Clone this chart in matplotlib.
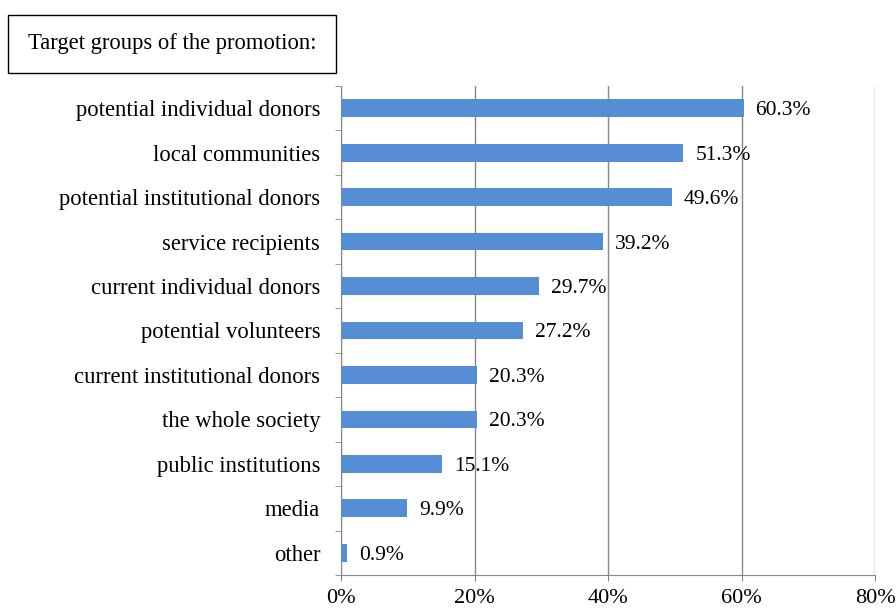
import matplotlib
matplotlib.use("Agg")
import matplotlib.pyplot as plt
from matplotlib.patches import Rectangle

plt.rcParams['font.family'] = ['Liberation Serif', 'DejaVu Serif']

categories = ["potential individual donors", "local communities", "potential institutional donors",
              "service recipients", "current individual donors", "potential volunteers",
              "current institutional donors", "the whole society", "public institutions",
              "media", "other"]
values = [60.3, 51.3, 49.6, 39.2, 29.7, 27.2, 20.3, 20.3, 15.1, 9.9, 0.9]
x_ticks = [0, 20, 40, 60, 80]
x_tick_labels = ["0%", "20%", "40%", "60%", "80%"]
title = "Target groups of the promotion:"

fig = plt.figure(figsize=(8.96, 6.08), dpi=100)
ax = fig.add_axes([341/896, 1-575/608, (875-341)/896, (575-86)/608])

n = len(categories)
ypos = list(range(n))
ax.barh(ypos, values, height=0.4, color='#558ed5', zorder=3)
ax.set_ylim(n - 0.5, -0.5)
ax.set_xlim(0, 80)

for y, v in zip(ypos, values):
    ax.text(v + 1.8, y, f"{v:.1f}%", va='center_baseline', ha='left', fontsize=15.5, zorder=4)

ax.set_xticks(x_ticks)
ax.set_xticklabels(x_tick_labels, fontsize=16)
ax.set_yticks(ypos)
ax.set_yticklabels(categories, fontsize=16.3)
ax.tick_params(axis='y', length=0, pad=15)
ax.set_yticks([i - 0.5 for i in range(n + 1)], minor=True)
ax.tick_params(axis='y', which='minor', length=4, color='#888888', direction='out')
ax.tick_params(axis='x', length=4, color='#888888', direction='out', pad=6)

ax.grid(axis='x', color='#888888', linewidth=1, zorder=0)
for s in ['top', 'right']:
    ax.spines[s].set_visible(False)
for s in ['left', 'bottom']:
    ax.spines[s].set_color('#888888')

# title box
fig.patches.append(Rectangle((8/896, 1-73/608), (336-8)/896, (73-15)/608,
                             transform=fig.transFigure, fill=False, edgecolor='black', linewidth=1))
fig.text((8+336)/2/896, 1-44/608, title, ha='center', va='center', fontsize=16.3)

fig.savefig("out.png", dpi=100)
